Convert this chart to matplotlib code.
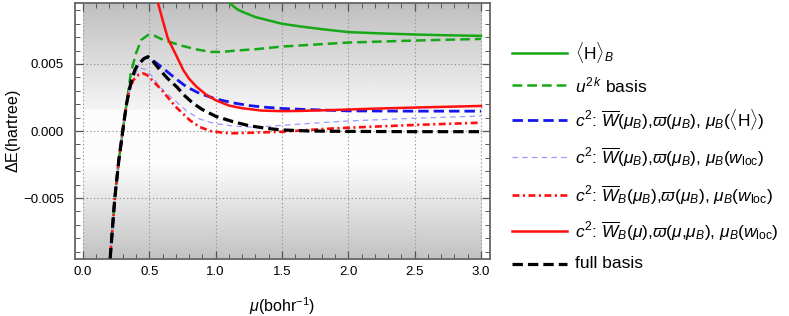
import matplotlib
matplotlib.use("Agg")
import matplotlib.pyplot as plt
import numpy as np
from matplotlib.lines import Line2D
from matplotlib.ticker import MultipleLocator, FuncFormatter

plt.rcParams['font.family'] = ['Liberation Sans', 'DejaVu Sans']
plt.rcParams['mathtext.fontset'] = 'custom'
plt.rcParams['mathtext.rm'] = 'Liberation Sans'
plt.rcParams['mathtext.it'] = 'Liberation Sans:italic'
plt.rcParams['mathtext.bf'] = 'Liberation Sans:bold'
plt.rcParams['lines.scale_dashes'] = False

# shared steep rise of all curves at small mu
rise_mu = [0.205, 0.24, 0.27, 0.30, 0.315, 0.33]
rise_dE = [-0.0095, -0.005, -0.0022, 0.0, 0.0011, 0.0021]

# <H>_B
h_mu = [1.11, 1.16, 1.2, 1.3, 1.38, 1.5, 1.64, 1.8, 2.0, 2.25, 2.5, 2.75, 3.0]
h_dE = [0.0095, 0.0091, 0.0089, 0.0085, 0.0083, 0.0080, 0.0078, 0.0076,
        0.00738, 0.00728, 0.0072, 0.00714, 0.0071]

# u^2k basis
u_mu = rise_mu + [0.36, 0.40, 0.44, 0.49, 0.54, 0.605, 0.67, 0.73, 0.85, 0.96,
                  1.05, 1.15, 1.3, 1.5, 2.0, 2.5, 3.0]
u_dE = rise_dE + [0.0043, 0.0058, 0.0068, 0.00716, 0.0071, 0.0068, 0.0066,
                  0.0064, 0.0061, 0.0059, 0.0059, 0.006, 0.0061, 0.0063,
                  0.0066, 0.00675, 0.00687]

# c2: W(muB), varpi(muB), muB(<H>)
b_mu = rise_mu + [0.35, 0.367, 0.39, 0.41, 0.43, 0.46, 0.49, 0.55, 0.62, 0.7,
                  0.78, 0.88, 1.0, 1.13, 1.25, 1.38, 1.5, 1.64, 2.0, 2.5, 3.0]
b_dE = rise_dE + [0.0031, 0.0038, 0.0045, 0.0049, 0.0051, 0.0054, 0.00554,
                  0.0051, 0.00455, 0.0039, 0.0033, 0.0028, 0.0024, 0.0021,
                  0.0019, 0.00177, 0.00168, 0.00162, 0.0015, 0.00148, 0.00148]

# c2: W(muB), varpi(muB), muB(wloc)
lb_mu = rise_mu + [0.35, 0.38, 0.41, 0.44, 0.47, 0.52, 0.57, 0.63, 0.69, 0.78,
                   0.88, 0.94, 1.0, 1.13, 1.25, 1.4, 1.64, 2.0, 2.5, 3.0]
lb_dE = rise_dE + [0.0032, 0.004, 0.0045, 0.00467, 0.0046, 0.0041, 0.0034,
                   0.0028, 0.0023, 0.0015, 0.0009, 0.0007, 0.00055, 0.00037,
                   0.0003, 0.00035, 0.00052, 0.00075, 0.00095, 0.00112]

# c2: W_B(muB), varpi(muB), muB(wloc)
rd_mu = rise_mu + [0.35, 0.38, 0.42, 0.45, 0.48, 0.53, 0.59, 0.64, 0.70, 0.806,
                   0.88, 0.96, 1.05, 1.13, 1.3, 1.51, 1.7, 1.9, 2.2, 2.5, 3.0]
rd_dE = rise_dE + [0.0031, 0.0038, 0.0042, 0.0043, 0.0042, 0.0037, 0.0031,
                   0.0025, 0.0018, 0.0008, 0.0003, 0.0, -0.00012, -0.00017,
                   -0.00012, -0.00005, 0.00008, 0.0002, 0.00033, 0.00045,
                   0.00062]

# c2: W_B(mu), varpi(mu,muB), muB(wloc)
r_mu = [0.567, 0.6, 0.64, 0.7, 0.756, 0.8, 0.856, 0.93, 1.0, 1.1, 1.2, 1.35,
        1.5, 1.65, 1.9, 2.2, 2.5, 3.0]
r_dE = [0.0095, 0.0083, 0.0069, 0.0057, 0.00455, 0.0039, 0.0033, 0.0027,
        0.0023, 0.0019, 0.0017, 0.00152, 0.00148, 0.0015, 0.00157, 0.00167,
        0.00175, 0.00187]

# full basis
k_mu = rise_mu + [0.35, 0.367, 0.39, 0.41, 0.43, 0.46, 0.49, 0.52, 0.58, 0.64,
                  0.706, 0.77, 0.83, 0.9, 1.0, 1.13, 1.25, 1.38, 1.5, 1.7, 2.0,
                  2.5, 3.0]
k_dE = rise_dE + [0.0031, 0.0038, 0.0045, 0.0049, 0.0051, 0.0054, 0.00554,
                  0.0053, 0.00455, 0.0039, 0.0033, 0.0026, 0.00207, 0.0016,
                  0.0011, 0.0007, 0.0004, 0.0002, 0.00008, 0.0, -0.00003,
                  -0.00005, -0.00005]

labels = [r'$\langle\mathrm{H}\rangle_B$',
          r'$u^{2\,k}$ basis',
          r'$c^2$: $\overline{W}(\mu_B)$,$\varpi(\mu_B)$, $\mu_B(\langle\mathrm{H}\rangle)$',
          r'$c^2$: $\overline{W}(\mu_B)$,$\varpi(\mu_B)$, $\mu_B(w_{\mathrm{loc}})$',
          r'$c^2$: $\overline{W}_B(\mu_B)$,$\varpi(\mu_B)$, $\mu_B(w_{\mathrm{loc}})$',
          r'$c^2$: $\overline{W}_B(\mu)$,$\varpi(\mu$,$\mu_B)$, $\mu_B(w_{\mathrm{loc}})$',
          'full basis']

green = '#17a817'
styles = [dict(color=green, lw=1.8, ls='-'),
          dict(color=green, lw=1.8, ls=(0, (7, 3.6))),
          dict(color='#1515ee', lw=2.0, ls=(0, (7.5, 3.6))),
          dict(color='#9a9aff', lw=0.9, ls=(0, (4, 3))),
          dict(color='#ff1010', lw=1.9, ls=(0, (5, 2.5, 1.5, 2.5))),
          dict(color='#ff1010', lw=1.8, ls='-'),
          dict(color='black', lw=2.3, ls=(0, (7.5, 3.6)))]
series = [(h_mu, h_dE), (u_mu, u_dE), (b_mu, b_dE), (lb_mu, lb_dE),
          (rd_mu, rd_dE), (r_mu, r_dE), (k_mu, k_dE)]

W, H = 789, 316
fig = plt.figure(figsize=(W / 100, H / 100), dpi=100)
ax = fig.add_axes([75 / W, 1 - 259 / H, 415 / W, 256 / H])

ymin, ymax = -0.00955, 0.00955
xmin, xmax = -0.06, 3.068

# background shading
yy = np.linspace(ymax, ymin, 400)
shade = np.where(yy > 0.0016, 0.75 + (ymax - yy) / (ymax - 0.0016) * 0.21,
                 np.where(yy < -0.0024, 0.99 - (-0.0024 - yy) / (-0.0024 - ymin) * 0.23, 0.99))
ax.imshow(np.tile(shade[:, None], (1, 2)), extent=[0, 3, ymin, ymax], aspect='auto',
          cmap='gray', vmin=0, vmax=1, zorder=0, interpolation='bilinear')

for (x, y), st in zip(series, styles):
    ax.plot(x, y, zorder=3, **st)

ax.set_xlim(xmin, xmax)
ax.set_ylim(ymin, ymax)
ax.xaxis.set_major_locator(MultipleLocator(0.5))
ax.xaxis.set_minor_locator(MultipleLocator(0.1))
ax.yaxis.set_major_locator(MultipleLocator(0.005))
ax.yaxis.set_minor_locator(MultipleLocator(0.001))
ax.xaxis.set_major_formatter(FuncFormatter(lambda v, p: '%.1f' % v))
ax.yaxis.set_major_formatter(FuncFormatter(lambda v, p: ('%.3f' % v).replace('-', '\u2212')))
ax.tick_params(which='both', direction='in', top=True, right=True, color='#555555',
               labelsize=9.5, labelcolor='black')
ax.tick_params(which='major', length=6, width=0.9)
ax.tick_params(which='minor', length=3.5, width=0.7)
ax.tick_params(axis='x', pad=5)
ax.tick_params(axis='y', pad=8)
ax.grid(True, which='major', ls=':', color='#999999', lw=0.8)
for s in ax.spines.values():
    s.set_color('#666666')
    s.set_linewidth(1.3)

ax.set_ylabel(r'$\Delta$E(hartree)', fontsize=11.5)
ax.set_xlabel(r'$\mu$(bohr$^{-1}$)', fontsize=11.5)
ax.yaxis.set_label_coords(-0.125, 0.5)
ax.xaxis.set_label_coords(0.5, -0.14)

# legend
ys = [52.5, 85, 120, 157, 195, 231, 264]
for lab, st, y in zip(labels, styles, ys):
    fy = 1 - y / H
    fig.add_artist(Line2D([512 / W, 567 / W], [fy, fy], **st))
    fig.text(575 / W, fy, lab, fontsize=12.5, va='center', ha='left')

fig.savefig('out.png', dpi=100)
